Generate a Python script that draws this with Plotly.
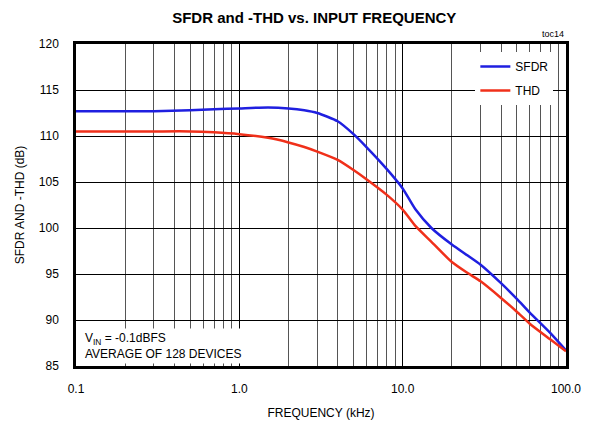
import plotly.graph_objects as go

freq = [0.1, 0.15, 0.2, 0.3, 0.5, 0.7, 1.0, 1.5, 2.0, 2.5, 3.0, 4.0, 5.0, 6.0, 8.0, 10, 12, 15, 20, 25, 30, 40, 50, 60, 80, 100]
sfdr = [112.7, 112.7, 112.7, 112.7, 112.8, 112.9, 113.0, 113.1, 113.0, 112.8, 112.5, 111.6, 110.2, 108.8, 106.4, 104.3, 102.0, 100.0, 98.2, 97.0, 96.0, 94.0, 92.3, 90.8, 88.6, 86.7]
thd = [110.5, 110.5, 110.5, 110.5, 110.5, 110.4, 110.2, 109.8, 109.3, 108.8, 108.3, 107.4, 106.3, 105.3, 103.6, 102.0, 100.2, 98.5, 96.3, 95.1, 94.2, 92.4, 90.9, 89.6, 87.9, 86.6]
x_tickvals = [0.1, 1, 10, 100]
x_ticktext = ["0.1", "1.0", "10.0", "100.0"]
y_tickvals = [85, 90, 95, 100, 105, 110, 115, 120]

FONT = "Liberation Sans Narrow, Arial Narrow, Liberation Sans, Arial, sans-serif"
TF = "Liberation Sans, Arial, sans-serif"

fig = go.Figure()
fig.add_trace(go.Scatter(x=freq, y=sfdr, mode="lines", name="SFDR", legendgroup="a",
                         line=dict(color="#1f1fe0", width=2.5, shape="spline", smoothing=0.6)))
fig.add_trace(go.Scatter(x=freq, y=thd, mode="lines", name="THD", legendgroup="b",
                         line=dict(color="#f0301a", width=2.5, shape="spline", smoothing=0.6)))

fig.update_layout(
    width=593, height=424,
    margin=dict(l=76, r=27, t=44, b=58),
    paper_bgcolor="white", plot_bgcolor="white",
    font=dict(family=TF, size=12, color="black"),
    title=dict(text="<b>SFDR and -THD vs. INPUT FREQUENCY</b>", x=0.53, xanchor="center",
               y=0.958, yanchor="middle", font=dict(family=FONT, size=15)),
    showlegend=True,
    legend=dict(x=0.815, y=0.975, xanchor="left", yanchor="top", bgcolor="white",
                borderwidth=0, font=dict(size=12, family=TF),
                itemwidth=30, tracegroupgap=5),
    annotations=[
        dict(text="V<sub>IN</sub> = -0.1dBFS<br>AVERAGE OF 128 DEVICES", xref="paper", yref="paper",
             x=0.0, y=0.005, xanchor="left", yanchor="bottom", align="left", showarrow=False,
             bgcolor="white", font=dict(size=12, family=TF), borderpad=2,
             xshift=6),
        dict(text="toc14", xref="paper", yref="paper", x=1.0, y=1.0, xanchor="right",
             yanchor="bottom", showarrow=False, yshift=3,
             font=dict(size=9, family=TF)),
    ],
)

fig.update_xaxes(
    type="log", range=[-1, 2], tickvals=x_tickvals, ticktext=x_ticktext,
    showgrid=True, gridcolor="black", gridwidth=1,
    minor=dict(dtick="D1", showgrid=True, gridcolor="#555", gridwidth=1, ticks=""),
    showline=True, linecolor="black", linewidth=2.5, mirror=True, ticks="",
    ticklabelstandoff=10, automargin=False,
    tickfont=dict(size=12, family=TF),
    title=dict(text="FREQUENCY (kHz)", font=dict(size=12, family=TF), standoff=14),
    zeroline=False,
)
fig.update_yaxes(
    range=[85, 120], tickvals=y_tickvals,
    showgrid=True, gridcolor="black", gridwidth=1,
    showline=True, linecolor="black", linewidth=2.5, mirror=True, ticks="",
    ticklabelstandoff=12, automargin=False,
    tickfont=dict(size=12, family=TF),
    title=dict(text="SFDR AND -THD (dB)", font=dict(size=12, family=TF), standoff=12),
    zeroline=False,
)

fig.write_html("out.html", config={"displayModeBar": False},
               post_script="document.body.style.margin='0px';")
